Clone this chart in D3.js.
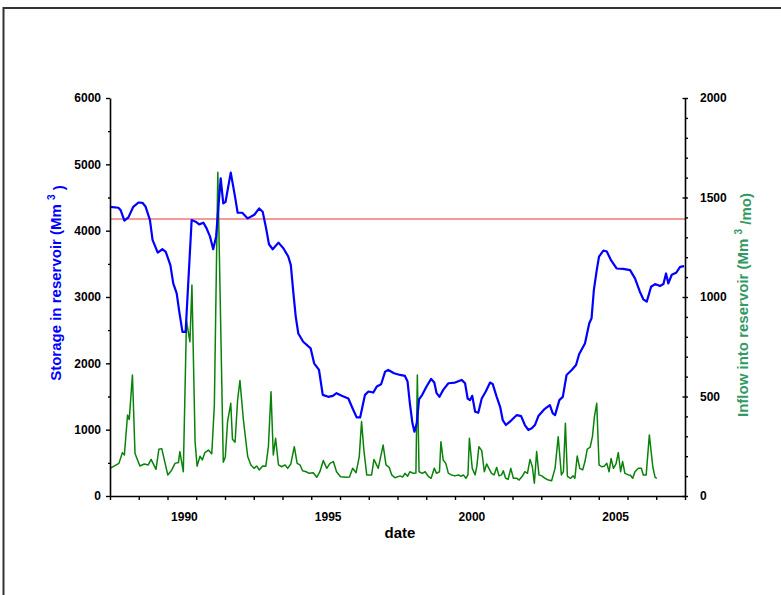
<!DOCTYPE html>
<html>
<head>
<meta charset="utf-8">
<script src="https://cdn.jsdelivr.net/npm/d3@7"></script>
<style>
body { margin: 0; background: #fff; }
svg text { font-family: Arial, "Liberation Sans", sans-serif; font-weight: bold; }
</style>
</head>
<body>
<svg id="chart" width="781" height="595"></svg>
<script>
// monthly-ish readings, dates as decimal years
var storageDates = [1987.00, 1987.29, 1987.37, 1987.50, 1987.64, 1987.81, 1987.99, 1988.13, 1988.24, 1988.39,
    1988.48, 1988.66, 1988.82, 1988.94, 1989.10, 1989.20, 1989.32, 1989.40, 1989.52, 1989.63,
    1989.84, 1989.98, 1990.10, 1990.25, 1990.36, 1990.48, 1990.59, 1990.69, 1990.85, 1990.94,
    1991.02, 1991.20, 1991.35, 1991.44, 1991.60, 1991.79, 1992.02, 1992.19, 1992.31, 1992.43,
    1992.53, 1992.66, 1992.86, 1993.03, 1993.20, 1993.29, 1993.38, 1993.46, 1993.55, 1993.72,
    1993.98, 1994.10, 1994.27, 1994.40, 1994.59, 1994.75, 1994.88, 1995.06, 1995.29, 1995.44,
    1995.58, 1995.70, 1995.87, 1995.99, 1996.16, 1996.28, 1996.43, 1996.57, 1996.68, 1996.88,
    1997.09, 1997.26, 1997.35, 1997.43, 1997.52, 1997.59, 1997.67, 1997.75, 1997.86, 1998.01,
    1998.17, 1998.28, 1998.36, 1998.46, 1998.59, 1998.77, 1999.00, 1999.23, 1999.35, 1999.44,
    1999.52, 1999.60, 1999.70, 1999.81, 1999.93, 2000.07, 2000.22, 2000.31, 2000.45, 2000.57,
    2000.66, 2000.77, 2000.97, 2001.15, 2001.30, 2001.43, 2001.55, 2001.67, 2001.78, 2001.90,
    2002.10, 2002.30, 2002.40, 2002.48, 2002.63, 2002.75, 2002.88, 2003.06, 2003.21, 2003.32,
    2003.52, 2003.67, 2003.75, 2003.83, 2003.93, 2004.01, 2004.16, 2004.28, 2004.42, 2004.62,
    2004.85, 2005.09, 2005.26, 2005.43, 2005.55, 2005.67, 2005.82, 2005.96, 2006.13, 2006.25,
    2006.34, 2006.42, 2006.54, 2006.69, 2006.83, 2006.97];
var storageValues = [4360, 4345, 4310, 4150, 4200, 4360, 4425, 4420, 4360, 4160,
    3860, 3670, 3720, 3680, 3480, 3205, 3055, 2805, 2475, 2475,
    4160, 4135, 4095, 4120, 4035, 3910, 3720, 3910, 4790, 4410,
    4435, 4875, 4510, 4270, 4270, 4185, 4240, 4335, 4285, 4035,
    3795, 3720, 3820, 3735, 3610, 3480, 3055, 2705, 2450, 2325,
    2225, 2000, 1900, 1525, 1495, 1510, 1550, 1510, 1470, 1320,
    1185, 1185, 1525, 1575, 1560, 1650, 1685, 1875, 1900, 1850,
    1825, 1810, 1725, 1395, 1095, 970, 1095, 1455, 1525, 1650,
    1765, 1710, 1550, 1495, 1600, 1700, 1710, 1750, 1700, 1470,
    1445, 1510, 1270, 1255, 1470, 1575, 1710, 1690, 1495, 1345,
    1145, 1070, 1145, 1220, 1205, 1070, 995, 1020, 1070, 1205,
    1305, 1370, 1245, 1220, 1445, 1495, 1825, 1900, 1975, 2140,
    2300, 2605, 2680, 3105, 3405, 3610, 3700, 3685, 3560, 3430,
    3425, 3405, 3280, 3080, 2965, 2930, 3155, 3195, 3165, 3195,
    3355, 3205, 3335, 3365, 3455, 3465];

var inflowDates = [1987.00, 1987.31, 1987.43, 1987.50, 1987.61, 1987.67, 1987.78, 1987.87, 1988.04, 1988.19,
    1988.33, 1988.43, 1988.60, 1988.70, 1988.80, 1989.01, 1989.15, 1989.26, 1989.38, 1989.43,
    1989.55, 1989.66, 1989.78, 1989.85, 1989.96, 1990.03, 1990.13, 1990.21, 1990.30, 1990.42,
    1990.54, 1990.63, 1990.75, 1990.94, 1991.01, 1991.09, 1991.20, 1991.26, 1991.35, 1991.44,
    1991.52, 1991.64, 1991.79, 1991.90, 1992.01, 1992.10, 1992.19, 1992.31, 1992.42, 1992.51,
    1992.60, 1992.68, 1992.76, 1992.86, 1992.97, 1993.09, 1993.18, 1993.29, 1993.41, 1993.51,
    1993.61, 1993.70, 1993.82, 1993.93, 1994.07, 1994.19, 1994.30, 1994.42, 1994.54, 1994.65,
    1994.77, 1994.88, 1995.02, 1995.23, 1995.33, 1995.44, 1995.56, 1995.67, 1995.75, 1995.83,
    1995.93, 1996.10, 1996.18, 1996.33, 1996.50, 1996.60, 1996.71, 1996.80, 1996.91, 1997.09,
    1997.18, 1997.26, 1997.35, 1997.43, 1997.55, 1997.64, 1997.69, 1997.75, 1997.86, 1997.96,
    1998.07, 1998.17, 1998.28, 1998.36, 1998.46, 1998.51, 1998.59, 1998.68, 1998.77, 1998.88,
    1999.00, 1999.12, 1999.21, 1999.29, 1999.38, 1999.45, 1999.50, 1999.60, 1999.70, 1999.76,
    1999.83, 1999.93, 2000.02, 2000.10, 2000.18, 2000.27, 2000.36, 2000.45, 2000.53, 2000.62,
    2000.68, 2000.76, 2000.85, 2000.94, 2001.03, 2001.15, 2001.23, 2001.34, 2001.43, 2001.52,
    2001.61, 2001.69, 2001.76, 2001.84, 2001.92, 2002.02, 2002.13, 2002.25, 2002.36, 2002.48,
    2002.59, 2002.70, 2002.77, 2002.84, 2002.91, 2003.02, 2003.11, 2003.17, 2003.25, 2003.34,
    2003.44, 2003.52, 2003.60, 2003.70, 2003.78, 2003.85, 2003.93, 2004.01, 2004.10, 2004.19,
    2004.28, 2004.36, 2004.43, 2004.51, 2004.60, 2004.68, 2004.76, 2004.83, 2004.91, 2005.03,
    2005.10, 2005.18, 2005.26, 2005.38, 2005.48, 2005.55, 2005.65, 2005.76, 2005.88, 2005.96,
    2006.02];
var inflowValues = [139, 164, 218, 206, 407, 385, 608, 214, 151, 161,
    156, 184, 134, 235, 238, 106, 131, 164, 168, 223,
    122, 880, 775, 1060, 270, 150, 200, 181, 218, 231,
    212, 457, 1627, 170, 195, 374, 466, 285, 270, 485,
    580, 382, 198, 156, 139, 151, 131, 151, 150, 248,
    524, 206, 290, 156, 147, 156, 139, 161, 248, 164,
    156, 127, 122, 114, 117, 94, 122, 178, 139, 164,
    173, 122, 97, 94, 96, 139, 117, 198, 374, 231,
    106, 106, 184, 139, 256, 156, 144, 106, 92, 101,
    95, 114, 99, 122, 114, 115, 608, 122, 114, 122,
    99, 89, 139, 114, 122, 273, 181, 164, 114, 106,
    101, 106, 99, 106, 89, 106, 290, 139, 106, 150,
    248, 228, 122, 161, 139, 114, 106, 144, 101, 106,
    127, 89, 84, 139, 89, 89, 80, 99, 122, 114,
    184, 147, 64, 223, 106, 101, 89, 80, 77, 139,
    298, 106, 122, 365, 99, 89, 101, 89, 201, 139,
    131, 173, 235, 245, 298, 399, 466, 156, 147, 150,
    164, 122, 189, 139, 161, 218, 122, 173, 114, 106,
    104, 89, 122, 139, 139, 106, 106, 307, 147, 94,
    89];

var targetStorage = 4175;
var yearTicks = d3.range(1987, 2008);
var yearLabels = [1990, 1995, 2000, 2005];
var storageTicks = d3.range(0, 6001, 1000);
var storageMinor = d3.range(500, 6000, 1000);
var inflowTicks = d3.range(0, 2001, 500);
var inflowMinor = d3.range(100, 2000, 100).filter(function(d) { return d % 500 !== 0; });

var margin = {top: 98, right: 96, bottom: 99, left: 110},
    width = 781 - margin.left - margin.right,
    height = 595 - margin.top - margin.bottom;

var root = d3.select("#chart");

// outer frame, runs past the right and bottom edge
root.append("rect")
    .attr("x", 3.5).attr("y", 8)
    .attr("width", 820).attr("height", 640)
    .attr("fill", "none")
    .attr("stroke", "#333")
    .attr("stroke-width", 2);

var svg = root.append("g")
    .attr("transform", "translate(" + margin.left + "," + margin.top + ")");

var x = d3.scaleLinear().domain([1987, 2007]).range([0, width]);
var yS = d3.scaleLinear().domain([0, 6000]).range([height, 0]);
var yI = d3.scaleLinear().domain([0, 2000]).range([height, 0]);

var storage = storageDates.map(function(d, i) { return {date: d, value: storageValues[i]}; });
var inflow = inflowDates.map(function(d, i) { return {date: d, value: inflowValues[i]}; });

// target level
svg.append("line")
    .attr("x1", 0).attr("x2", width)
    .attr("y1", yS(targetStorage)).attr("y2", yS(targetStorage))
    .attr("stroke", "#f07878")
    .attr("stroke-width", 1.6);

svg.append("path")
    .datum(inflow)
    .attr("fill", "none")
    .attr("stroke", "#0a820a")
    .attr("stroke-width", 1.5)
    .attr("stroke-linejoin", "round")
    .attr("d", d3.line()
        .x(function(d) { return x(d.date); })
        .y(function(d) { return yI(d.value); }));

svg.append("path")
    .datum(storage)
    .attr("fill", "none")
    .attr("stroke", "#0000ff")
    .attr("stroke-width", 2.2)
    .attr("stroke-linejoin", "round")
    .attr("d", d3.line()
        .x(function(d) { return x(d.date); })
        .y(function(d) { return yS(d.value); }));

// axes
var fmt = d3.format("d");

function styleAxis(g) {
    g.select(".domain").attr("stroke", "#000").attr("stroke-width", 1.6);
    g.selectAll(".tick line").attr("stroke", "#000").attr("stroke-width", 1.4);
    g.selectAll("text").attr("fill", "#000").style("font-size", "12px")
        .style("font-family", "Arial, 'Liberation Sans', sans-serif").style("font-weight", "bold");
}

svg.append("g")
    .attr("transform", "translate(0," + height + ")")
    .call(d3.axisBottom(x)
        .tickValues(yearTicks)
        .tickSize(4)
        .tickSizeOuter(0)
        .tickPadding(12)
        .tickFormat(function(d) { return yearLabels.indexOf(d) >= 0 ? fmt(d) : ""; }))
    .call(styleAxis)
    .selectAll("text")
        .attr("text-anchor", "end")
        .attr("x", 1);

svg.append("g")
    .call(d3.axisLeft(yS).tickValues(storageTicks).tickSize(4).tickSizeOuter(0).tickPadding(5).tickFormat(fmt))
    .call(styleAxis);
svg.append("g")
    .call(d3.axisLeft(yS).tickValues(storageMinor).tickSize(2).tickFormat(""))
    .call(styleAxis)
    .select(".domain").remove();

var right = svg.append("g")
    .attr("transform", "translate(" + width + ",0)")
    .call(d3.axisRight(yI).tickValues(inflowTicks).tickSize(3).tickSizeOuter(0).tickPadding(12).tickFormat(fmt))
    .call(styleAxis);
right.selectAll(".tick line").attr("x1", -2.5);
svg.append("g")
    .attr("transform", "translate(" + width + ",0)")
    .call(d3.axisRight(yI).tickValues(inflowMinor).tickSize(3).tickFormat(""))
    .call(styleAxis)
    .select(".domain").remove();

// titles
var leftTitle = root.append("text")
    .attr("transform", "translate(61,283) rotate(-90)")
    .attr("text-anchor", "middle")
    .attr("fill", "#0000ff")
    .style("font-size", "15px");
leftTitle.append("tspan").text("Storage in reservoir (Mm ");
leftTitle.append("tspan").attr("dy", "-0.6em").style("font-size", "10px").text("3");
leftTitle.append("tspan").attr("dy", "0.6em").text(" )");

var rightTitle = root.append("text")
    .attr("transform", "translate(748,305) rotate(-90)")
    .attr("text-anchor", "middle")
    .attr("fill", "#339966")
    .style("font-size", "15px");
rightTitle.append("tspan").text("Inflow into reservoir (Mm ");
rightTitle.append("tspan").attr("dy", "-0.6em").style("font-size", "10px").text("3");
rightTitle.append("tspan").attr("dy", "0.6em").text(" /mo)");

root.append("text")
    .attr("x", 400).attr("y", 538)
    .attr("text-anchor", "middle")
    .attr("fill", "#000")
    .style("font-size", "15px")
    .text("date");
</script>
</body>
</html>
